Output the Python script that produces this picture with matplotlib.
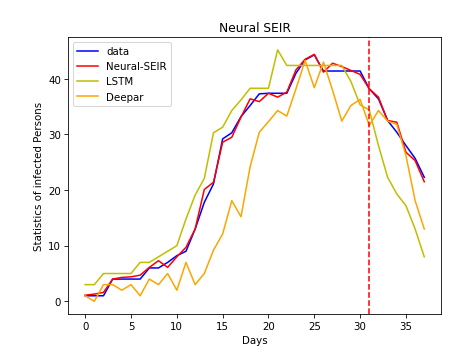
import matplotlib
matplotlib.use('Agg')
import matplotlib.pyplot as plt

days = list(range(38))

data = [1, 1, 1, 4, 4, 4, 4, 6, 6, 7, 8.2, 9, 13, 17.8, 21.1, 29.2, 30.3, 33.2, 35.2, 37.3,
        37.4, 37.4, 37.4, 41, 43.4, 44.3, 41.4, 41.4, 41.4, 41.4, 41.4, 38.2, 36.4, 32.5,
        30.4, 28, 25.7, 22.3]
neural_seir = [1.1, 1.3, 1.6, 4, 4.3, 4.4, 4.7, 6.1, 7.3, 6.1, 8, 9.7, 13, 20.1, 21.4, 28.6,
               29.5, 33.1, 36.4, 35.9, 37.4, 36.7, 37.6, 41.6, 43.5, 44.4, 41.2, 42.8, 42.2,
               41.5, 40.8, 38.2, 36.7, 32.5, 32.2, 26.8, 25.3, 21.5]
lstm = [3, 3, 5, 5, 5, 5, 7, 7, 8, 9, 10, 14.8, 19.1, 22.1, 30.3, 31.3, 34.3, 36.2, 38.3, 38.3,
        38.3, 45.2, 42.4, 42.4, 42.4, 42.4, 42.4, 42.4, 42.4, 39.5, 35.3, 34.4, 28, 22.3,
        19.3, 17.2, 13, 8]
deepar = [1, 0, 3, 3, 2, 3, 1, 4, 3, 5, 2, 7, 3, 5, 9.2, 12.1, 18.1, 15.2, 24.2, 30.4, 32.3,
          34.3, 33.3, 38.2, 43.3, 38.4, 43, 37.9, 32.4, 35.2, 36.3, 31.6, 34.3, 32.4, 31.8,
          26.2, 18.1, 13]
split_day = 31

fig, ax = plt.subplots(figsize=(6.4, 4.8))
fig.subplots_adjust(left=0.145, right=0.938, top=0.892, bottom=0.108)

ax.plot(days, data, color='b', label='data')
ax.plot(days, neural_seir, color='r', label='Neural-SEIR')
ax.plot(days, lstm, color='y', label='LSTM')
ax.plot(days, deepar, color='orange', label='Deepar')
ax.axvline(split_day, color='r', linestyle='--')

ax.set_title('Neural SEIR')
ax.set_xlabel('Days')
ax.set_ylabel('Statistics of infected Persons')
ax.legend(loc='upper left')

fig.savefig('out.png', dpi=73.5)
